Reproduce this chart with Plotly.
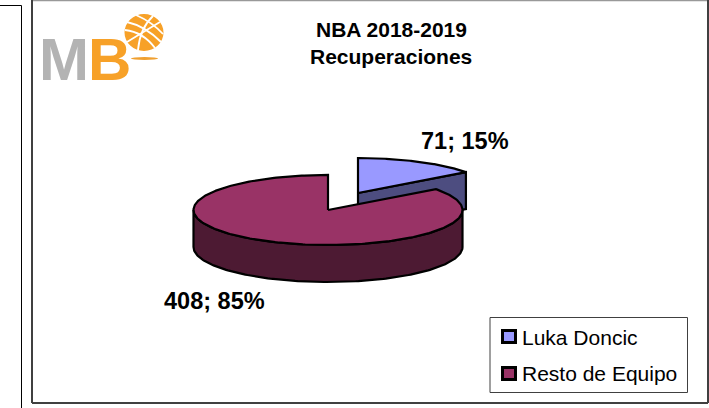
import numpy as np
import plotly.graph_objects as go

categories = ["Luka Doncic", "Resto de Equipo"]
values = [71, 408]
percent_labels = ["15%", "85%"]
title_lines = ["NBA 2018-2019", "Recuperaciones"]

W, H = 709, 408
CX, CY, RX, RY, DEPTH = 328, 210, 134.5, 35, 37
EXPLODE = (30, -17)
TOP = ["#9999FF", "#993366"]
SIDE = ["#4D4D80", "#4D1A33"]
FONT = "Liberation Sans, Arial, sans-serif"

total = sum(values)
split = 2 * np.pi * values[0] / total


def rim(cx, cy, start, end, n=160):
    t = np.linspace(start, end, n)
    return cx + RX * np.sin(t), cy - RY * np.cos(t)


def poly(fig, xs, ys, fill):
    fig.add_trace(go.Scatter(
        x=list(xs), y=list(ys), mode="lines", fill="toself", fillcolor=fill,
        line=dict(color="black", width=2.2), hoverinfo="skip", showlegend=False))


fig = go.Figure()

# Exploded slice: cut face, then top
bx, by = CX + EXPLODE[0], CY + EXPLODE[1]
ex, ey = rim(bx, by, split, split, 1)
poly(fig, [bx, ex[0], ex[0], bx, bx], [by, ey[0], ey[0] + DEPTH, by + DEPTH, by], SIDE[0])
tx, ty = rim(bx, by, 0, split)
poly(fig, [bx, *tx, bx], [by, *ty, by], TOP[0])

# Large slice: front wall, then top
wx, wy = rim(CX, CY, np.pi / 2, 3 * np.pi / 2)
poly(fig, [*wx, *wx[::-1], wx[0]], [*wy, *(wy[::-1] + DEPTH), wy[0]], SIDE[1])
mx, my = rim(CX, CY, split, 2 * np.pi, 300)
poly(fig, [CX, *mx, CX], [CY, *my, CY], TOP[1])

shapes = [
    # outer frames
    dict(type="line", x0=0, x1=21.5, y0=5.5, y1=5.5, line=dict(color="black", width=1)),
    dict(type="line", x0=21.5, x1=21.5, y0=5.5, y1=408, line=dict(color="black", width=1)),
    dict(type="line", x0=32, x1=709, y0=0.5, y1=0.5, line=dict(color="#999999", width=1.5)),
    dict(type="line", x0=32, x1=32, y0=0, y1=403, line=dict(color="#404040", width=2)),
    dict(type="line", x0=32, x1=708, y0=403, y1=403, line=dict(color="#404040", width=2)),
    dict(type="line", x0=708, x1=708, y0=0, y1=403, line=dict(color="#404040", width=2)),
    # legend
    dict(type="rect", x0=490, x1=687.5, y0=317.5, y1=392.5, fillcolor="white",
         line=dict(color="#404040", width=1)),
    dict(type="rect", x0=502.5, x1=515.5, y0=330.5, y1=342.5, fillcolor=TOP[0],
         line=dict(color="black", width=3)),
    dict(type="rect", x0=502.5, x1=515.5, y0=367.5, y1=379.5, fillcolor=TOP[1],
         line=dict(color="black", width=3)),
    # logo ball and underline
    dict(type="circle", x0=124.5, x1=163.5, y0=14, y1=51, fillcolor="#F7A128", line=dict(width=0)),
    dict(type="path", path="M 127 22 Q 145 26 161 42", line=dict(color="white", width=1.8)),
    dict(type="path", path="M 125 30 Q 143 32 155 48", line=dict(color="white", width=1.8)),
    dict(type="path", path="M 136 15 Q 152 22 163 34", line=dict(color="white", width=1.8)),
    dict(type="path", path="M 153 16 Q 140 28 138 50", line=dict(color="white", width=1.8)),
    dict(type="path", path="M 127 42 Q 140 34 160 22", line=dict(color="white", width=1.8)),
    dict(type="circle", x0=131, x1=158, y0=57, y1=60, fillcolor="#F0A030", line=dict(width=0)),
]


def note(x, y, text, size, bold=False, color="black", anchor="center"):
    return dict(x=x, y=y, text=f"<b>{text}</b>" if bold else text, showarrow=False,
                xanchor=anchor, yanchor="middle", xref="x", yref="y",
                font=dict(family=FONT, size=size, color=color))


annotations = [
    note(391, 29, title_lines[0], 21, True),
    note(391, 56, title_lines[1], 21, True),
    note(465, 141, f"{values[0]}; {percent_labels[0]}", 23.5, True),
    note(214, 301, f"{values[1]}; {percent_labels[1]}", 23.5, True),
    note(519.5, 337, categories[0], 21, anchor="left"),
    note(519.5, 373, categories[1], 21, anchor="left"),
    note(37, 59, "M", 60, True, "#B3B3B3", "left"),
    note(86, 59, "B", 60, True, "#F7A128", "left"),
]

fig.update_layout(
    width=W, height=H, autosize=False,
    margin=dict(l=0, r=0, t=0, b=0),
    paper_bgcolor="white", plot_bgcolor="white",
    xaxis=dict(range=[0, W], visible=False, fixedrange=True),
    yaxis=dict(range=[H, 0], visible=False, fixedrange=True),
    shapes=shapes, annotations=annotations, showlegend=False,
)
fig.write_html("out.html", config={"displayModeBar": False},
               post_script="document.body.style.margin='0';document.body.style.overflow='hidden';")
